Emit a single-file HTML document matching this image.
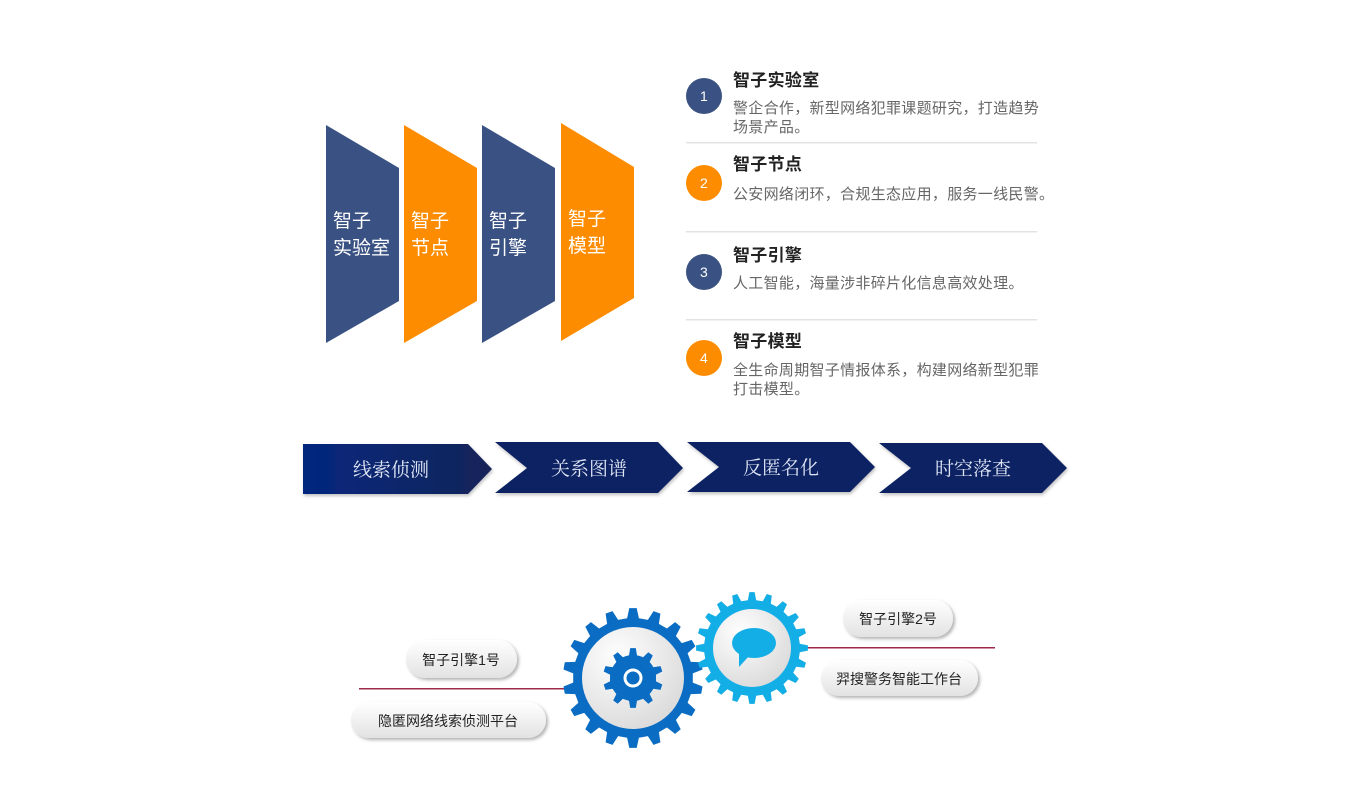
<!DOCTYPE html>
<html><head><meta charset="utf-8">
<style>
html,body{margin:0;padding:0;background:#fff;}
svg{display:block;}
text{font-family:"Liberation Sans","Noto Sans CJK SC",sans-serif;}
</style></head>
<body>
<svg id="s" width="1360" height="812" viewBox="0 0 1360 812" xmlns="http://www.w3.org/2000/svg">
<defs>
<linearGradient id="c1" x1="0" x2="1"><stop offset="0" stop-color="#04287f"/><stop offset="1" stop-color="#142458"/></linearGradient>
<radialGradient id="disk" cx="0.35" cy="0.3" r="0.8"><stop offset="0" stop-color="#ffffff"/><stop offset="1" stop-color="#d8d8d8"/></radialGradient>
<linearGradient id="pill" x1="0" y1="0" x2="0" y2="1"><stop offset="0" stop-color="#ffffff"/><stop offset="1" stop-color="#e2e2e2"/></linearGradient>
<filter id="sh" x="-20%" y="-30%" width="140%" height="170%"><feDropShadow dx="1" dy="2" stdDeviation="1.5" flood-color="#000" flood-opacity="0.25"/></filter>
<filter id="sh2" x="-10%" y="-20%" width="130%" height="150%"><feDropShadow dx="2" dy="2" stdDeviation="1.5" flood-color="#000" flood-opacity="0.3"/></filter>
</defs>

<polygon points="326,125 399,168 399,301 326,343" fill="#3a5283"/>
<polygon points="404,125 477,168 477,301 404,343" fill="#fd8c00"/>
<polygon points="482,125 555,168 555,301 482,343" fill="#3a5283"/>
<polygon points="561,123 634,167 634,298 561,341" fill="#fd8c00"/>
<g fill="#fff" font-size="19">
<text x="333" y="227">智子</text><text x="333" y="254">实验室</text>
<text x="411" y="227">智子</text><text x="411" y="254">节点</text>
<text x="489" y="227">智子</text><text x="489" y="254">引擎</text>
<text x="568" y="225">智子</text><text x="568" y="252">模型</text>
</g>

<g font-size="15" letter-spacing="0.3">
<circle cx="704" cy="96" r="18" fill="#3a5283"/><text x="704" y="101" fill="#fff" text-anchor="middle" font-size="14">1</text>
<text x="733" y="86" font-size="17" font-weight="bold" fill="#222">智子实验室</text>
<text x="733" y="113" fill="#666">警企合作，新型网络犯罪课题研究，打造趋势</text>
<text x="733" y="132" fill="#666">场景产品。</text>
<rect x="686" y="142" width="351" height="1.5" fill="#e3e3e3"/>
<circle cx="704" cy="183" r="18" fill="#fd8c00"/><text x="704" y="188" fill="#fff" text-anchor="middle" font-size="14">2</text>
<text x="733" y="170" font-size="17" font-weight="bold" fill="#222">智子节点</text>
<text x="733" y="199" fill="#666">公安网络闭环，合规生态应用，服务一线民警。</text>
<rect x="686" y="231" width="351" height="1.5" fill="#e3e3e3"/>
<circle cx="704" cy="272" r="18" fill="#3a5283"/><text x="704" y="277" fill="#fff" text-anchor="middle" font-size="14">3</text>
<text x="733" y="261" font-size="17" font-weight="bold" fill="#222">智子引擎</text>
<text x="733" y="288" fill="#666">人工智能，海量涉非碎片化信息高效处理。</text>
<rect x="686" y="319" width="351" height="1.5" fill="#e3e3e3"/>
<circle cx="704" cy="358" r="18" fill="#fd8c00"/><text x="704" y="363" fill="#fff" text-anchor="middle" font-size="14">4</text>
<text x="733" y="347" font-size="17" font-weight="bold" fill="#222">智子模型</text>
<text x="733" y="375" fill="#666">全生命周期智子情报体系，构建网络新型犯罪</text>
<text x="733" y="394" fill="#666">打击模型。</text>
</g>

<g filter="url(#sh)">
<polygon points="303,444 468,444 492,469 468,494 303,494" fill="url(#c1)"/>
<polygon points="495,442 658,442 683,468 658,493 495,493 527,468" fill="#0e2463"/>
<polygon points="687,442 850,442 875,467 850,492 687,492 719,467" fill="#0e2463"/>
<polygon points="879,443 1042,443 1067,468 1042,493 879,493 911,468" fill="#0e2463"/>
</g>
<g fill="#dfe6f5" font-size="19" text-anchor="middle">
<text x="391" y="476" style="font-family:'Liberation Serif','Noto Serif CJK SC',serif">线索侦测</text>
<text x="589" y="475" style="font-family:'Liberation Serif','Noto Serif CJK SC',serif">关系图谱</text>
<text x="781" y="474" style="font-family:'Liberation Serif','Noto Serif CJK SC',serif">反匿名化</text>
<text x="973" y="475" style="font-family:'Liberation Serif','Noto Serif CJK SC',serif">时空落查</text>
</g>

<rect x="359" y="688" width="205" height="1.5" fill="#9c2a4a"/>
<rect x="805" y="647" width="190" height="1.5" fill="#9c2a4a"/>

<g id="gears"></g>

<g filter="url(#sh2)">
<rect x="406" y="640" width="111" height="38" rx="19" fill="url(#pill)"/>
<rect x="351" y="702" width="195" height="36" rx="18" fill="url(#pill)"/>
<rect x="843" y="600" width="110" height="37" rx="18.5" fill="url(#pill)"/>
<rect x="821" y="660" width="157" height="36" rx="18" fill="url(#pill)"/>
</g>
<g font-size="14" fill="#222" text-anchor="middle">
<text x="461" y="665">智子引擎1号</text>
<text x="448" y="726">隐匿网络线索侦测平台</text>
<text x="898" y="624">智子引擎2号</text>
<text x="899" y="684">羿搜警务智能工作台</text>
</g>
</svg>
<script>
function gear(cx,cy,n,ro,ri,color){
  var p=[],step=Math.PI*2/n;
  for(var i=0;i<n;i++){
    var a=i*step-Math.PI/2;
    var pts=[[a-step*0.28,ri],[a-step*0.15,ro],[a+step*0.15,ro],[a+step*0.28,ri]];
    pts.forEach(function(q){p.push((cx+q[1]*Math.cos(q[0])).toFixed(1)+','+(cy+q[1]*Math.sin(q[0])).toFixed(1));});
  }
  return '<polygon points="'+p.join(' ')+'" fill="'+color+'"/>';
}
var g='';
g+=gear(633,678,18,70,60,'#0a6cc2');
g+=gear(752,648,20,56,48,'#14aee6');
g+='<circle cx="633" cy="678" r="51" fill="url(#disk)"/>';
g+='<circle cx="752" cy="648" r="39" fill="url(#disk)"/>';
g+=gear(633,678,10,30,23,'#0a6cc2');
g+='<circle cx="633" cy="678" r="23" fill="#0a6cc2"/><circle cx="633" cy="678" r="8" fill="none" stroke="#fff" stroke-width="3"/>';
g+='<ellipse cx="754" cy="643" rx="22" ry="15" fill="#14aee6"/><polygon points="739,652 750,655 739,667" fill="#14aee6"/>';
document.getElementById('gears').innerHTML=g;
</script>
</body></html>
